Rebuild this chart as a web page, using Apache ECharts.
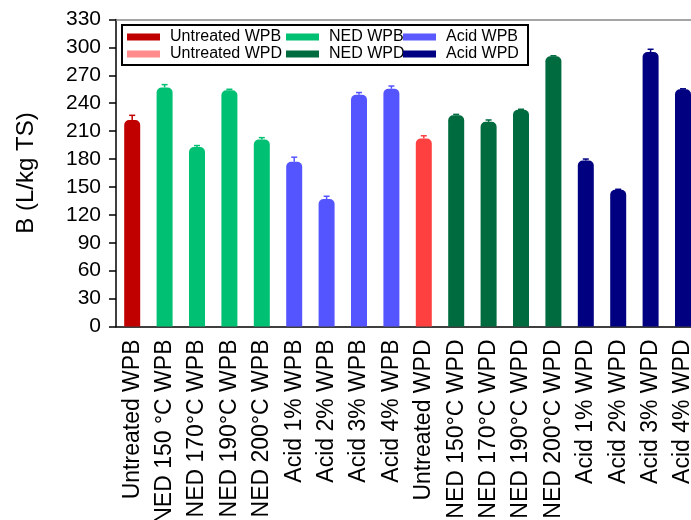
<!DOCTYPE html>
<html>
<head>
<meta charset="utf-8">
<script src="https://cdn.jsdelivr.net/npm/echarts@6/dist/echarts.min.js"></script>
<style>html,body{margin:0;padding:0;background:#fff}#c{width:691px;height:520px}</style>
</head>
<body>
<div id="c"></div>
<script>
var categories = ['Untreated WPB','NED 150 °C WPB','NED 170°C WPB','NED 190°C WPB','NED 200°C WPB','Acid 1% WPB','Acid 2% WPB','Acid 3% WPB','Acid 4% WPB','Untreated WPD','NED 150°C WPD','NED 170°C WPD','NED 190°C WPD','NED 200°C WPD','Acid 1% WPD','Acid 2% WPD','Acid 3% WPD','Acid 4% WPD'];
var values = [222, 257, 193, 254, 201, 177, 137, 249, 255.5, 202, 227, 220, 233, 290.5, 178.5, 147, 295, 255];
var errors = [5, 3, 1.5, 1, 2, 5, 3, 2.5, 3, 3, 1, 2, 0.5, 0.5, 1.5, 0.5, 3, 0.5];
var groupOf = [0, 2, 2, 2, 2, 4, 4, 4, 4, 1, 3, 3, 3, 3, 5, 5, 5, 5];
var seriesNames = ['Untreated WPB','Untreated WPD','NED WPB','NED WPD','Acid WPB','Acid WPD'];
var seriesColors = ['#C00000','#FF4040','#00C073','#006B3F','#5555FF','#000080'];
var legendColors = ['#C00000','#FF8C8C','#00C073','#006B3F','#5A5AFF','#000080'];
var yTicks = [0, 30, 60, 90, 120, 150, 180, 210, 240, 270, 300, 330];

var FONT = 'Arial, "Liberation Sans", sans-serif';
var chart = echarts.init(document.getElementById('c'));

var series = seriesNames.map(function (name, s) {
  return {
    name: name,
    type: 'bar',
    barWidth: 16,
    barGap: '-100%',
    itemStyle: { color: seriesColors[s], borderRadius: [5, 5, 0, 0] },
    data: values.map(function (v, i) { return groupOf[i] === s ? v : '-'; }),
    z: 2
  };
});

series.push({
  type: 'custom',
  name: 'err',
  z: 3,
  data: values.map(function (v, i) { return [i, v, errors[i]]; }),
  encode: { x: 0, y: 1 },
  renderItem: function (params, api) {
    var i = api.value(0), v = api.value(1), e = api.value(2);
    var p0 = api.coord([i, v]);
    var p1 = api.coord([i, v + e]);
    var col = seriesColors[groupOf[i]];
    return {
      type: 'group',
      children: [
        { type: 'line', shape: { x1: p0[0], y1: p0[1], x2: p1[0], y2: p1[1] }, style: { stroke: col, lineWidth: 1.5 } },
        { type: 'line', shape: { x1: p1[0] - 3, y1: p1[1], x2: p1[0] + 3, y2: p1[1] }, style: { stroke: col, lineWidth: 1.5 } }
      ]
    };
  }
});

function legendCol(names, left) {
  return {
    orient: 'vertical',
    left: left,
    top: 29,
    itemWidth: 33,
    itemHeight: 7,
    itemGap: 1,
    icon: 'rect',
    padding: 0,
    textStyle: { fontFamily: FONT, fontSize: 16, color: '#000', lineHeight: 16, padding: [0, 0, 0, 5] },
    data: names.map(function (n) {
      var s = seriesNames.indexOf(n);
      return { name: n, itemStyle: { color: legendColors[s] } };
    })
  };
}

chart.setOption({
  animation: false,
  backgroundColor: '#fff',
  grid: { left: 116, top: 19.5, bottom: 193.5, right: -8.2, containLabel: false, outerBoundsMode: 'none' },
  legend: [
    legendCol(['Untreated WPB', 'Untreated WPD'], 127),
    legendCol(['NED WPB', 'NED WPD'], 286),
    legendCol(['Acid WPB', 'Acid WPD'], 403)
  ],
  graphic: [{
    type: 'rect', z: -1, shape: { x: 122, y: 25, width: 406, height: 40 },
    style: { fill: '#fff', stroke: '#000', lineWidth: 2 }
  }],
  xAxis: [{
    type: 'category',
    data: categories,
    axisLine: { lineStyle: { color: '#000', width: 1.5 } },
    axisTick: { alignWithLabel: true, length: 6, lineStyle: { color: '#000', width: 1.5 } },
    axisLabel: { interval: 0, rotate: 90, margin: 13, fontFamily: FONT, fontSize: 23, color: '#000' },
    splitLine: { show: false }
  }, {
    type: 'category',
    position: 'top',
    data: categories,
    axisLine: { lineStyle: { color: '#888', width: 1.5 } },
    axisTick: { show: false },
    axisLabel: { show: false }
  }],
  yAxis: {
    type: 'value',
    min: yTicks[0],
    max: yTicks[yTicks.length - 1],
    interval: 30,
    name: 'B (L/kg TS)',
    nameLocation: 'middle',
    nameGap: 78,
    nameTextStyle: { fontFamily: FONT, fontSize: 24, color: '#000' },
    axisLine: { show: true, lineStyle: { color: '#000', width: 1.5 } },
    axisTick: { show: true, length: 7, lineStyle: { color: '#000', width: 1.5 } },
    axisLabel: { margin: 15, fontFamily: FONT, fontSize: 21, color: '#000' },
    splitLine: { show: false }
  },
  series: series
});
</script>
</body>
</html>
